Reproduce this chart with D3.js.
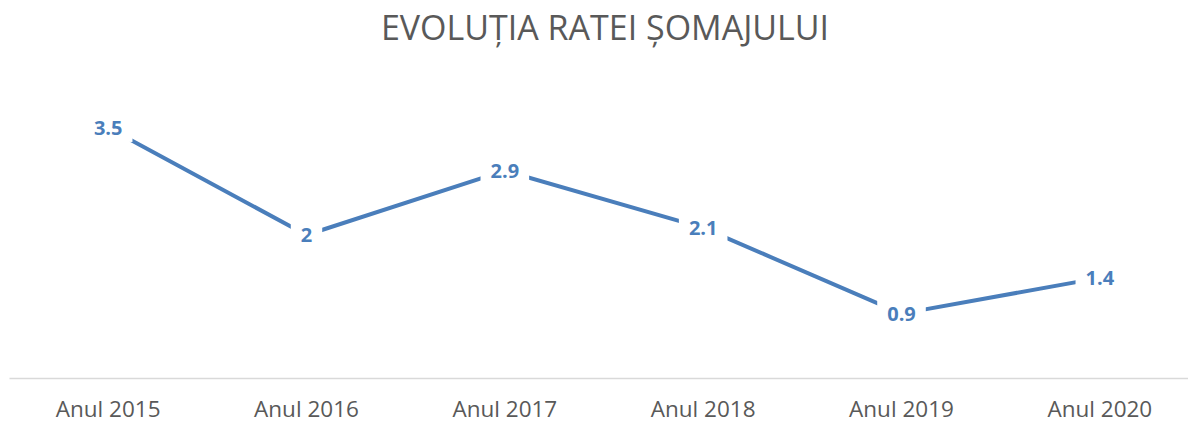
<!DOCTYPE html>
<html><head><meta charset="utf-8">
<script src="https://cdn.jsdelivr.net/npm/d3@7"></script>
<style>body{margin:0;background:#fff}svg{display:block}</style>
</head><body>
<script>
const categories = ["Anul 2015","Anul 2016","Anul 2017","Anul 2018","Anul 2019","Anul 2020"];
const values = [3.5, 2, 2.9, 2.1, 0.9, 1.4];
const labels = ["3.5","2","2.9","2.1","0.9","1.4"];
const title = "EVOLUȚIA RATEI ȘOMAJULUI";

const W = 1188, H = 423;
const svg = d3.select("body").append("svg").attr("width", W).attr("height", H);
const x = d3.scaleBand().domain(categories).range([9, 1199]);
const y = d3.scaleLinear().domain([0, 4]).range([378, 92]);
const blue = "#4a7ebb";

svg.append("text").attr("x", 605).attr("y", 40).attr("text-anchor", "middle")
  .attr("font-family", "Open Sans").attr("font-size", 34).attr("fill", "#595959")
  .text(title);

const axis = svg.append("g").attr("transform", "translate(0,378)")
  .call(d3.axisBottom(x).tickSize(0).tickPadding(23));
axis.select(".domain").attr("stroke", "#d9d9d9").attr("stroke-width", 1.5);
axis.selectAll("text").attr("font-family", "Open Sans").attr("font-size", 22.5).attr("fill", "#595959");

const cx = d => x(d) + x.bandwidth() / 2;
svg.append("path").datum(values)
  .attr("d", d3.line().x((d, i) => cx(categories[i])).y(d => y(d)))
  .attr("fill", "none").attr("stroke", blue).attr("stroke-width", 4).attr("stroke-linejoin", "round");

const lg = svg.append("g").selectAll("g").data(values).join("g")
  .attr("transform", (d, i) => `translate(${cx(categories[i])},${y(d)})`);
const bg = lg.append("rect").attr("fill", "#fff");
const tx = lg.append("text").attr("text-anchor", "middle").attr("dy", "0.36em")
  .attr("font-family", "Open Sans").attr("font-weight", "bold").attr("font-size", 20).attr("fill", blue)
  .text((d, i) => labels[i]);
tx.each(function(d, i) {
  const b = this.getBBox();
  d3.select(this.parentNode).select("rect")
    .attr("x", b.x - 10).attr("y", b.y - 1).attr("width", b.width + 20).attr("height", b.height + 2);
});
</script>
</body></html>
